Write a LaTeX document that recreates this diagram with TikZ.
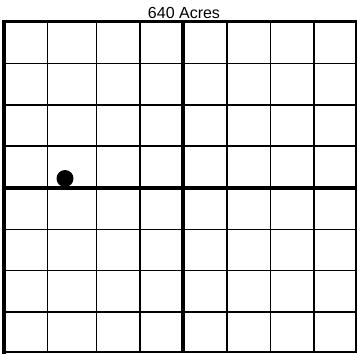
\documentclass[tikz,border=0pt]{standalone}
\usepackage{fontspec}
\setmainfont{Liberation Sans}
\usetikzlibrary{positioning}

\begin{document}
\begin{tikzpicture}[x=1pt, y=-1pt,
    gridline/.style={line width=1.3pt},
    heavyline/.style={line width=4pt},
    frameline/.style={line width=3pt, line cap=rect},
    welldot/.style={circle, fill=black, minimum size=17pt, inner sep=0pt}]
    \useasboundingbox (0,0) rectangle (357,354);
    \node[font=\fontsize{16}{18}\selectfont, inner sep=0pt] (title) at (184,12.5) {640 Acres};
    % thin lines
    \foreach \x in {47.7,96.7,140,227,270.7,314}
        \draw[gridline] (\x,21) -- (\x,352);
    \foreach \y in {63.3,105,146,229.3,270.5,312}
        \draw[gridline] (4,\y) -- (356,\y);
    % quarter lines
    \draw[heavyline] (183.3,21) -- (183.3,352);
    \draw[heavyline] (4,188.3) -- (356,188.3);
    % frame
    \draw[frameline] (4,352) -- (4,21) -- (356,21);
    \draw[line width=2pt, line cap=rect] (356,21) -- (356,352) -- (4,352);
    \node[welldot] (well) at (65,178.5) {};
\end{tikzpicture}
\end{document}
